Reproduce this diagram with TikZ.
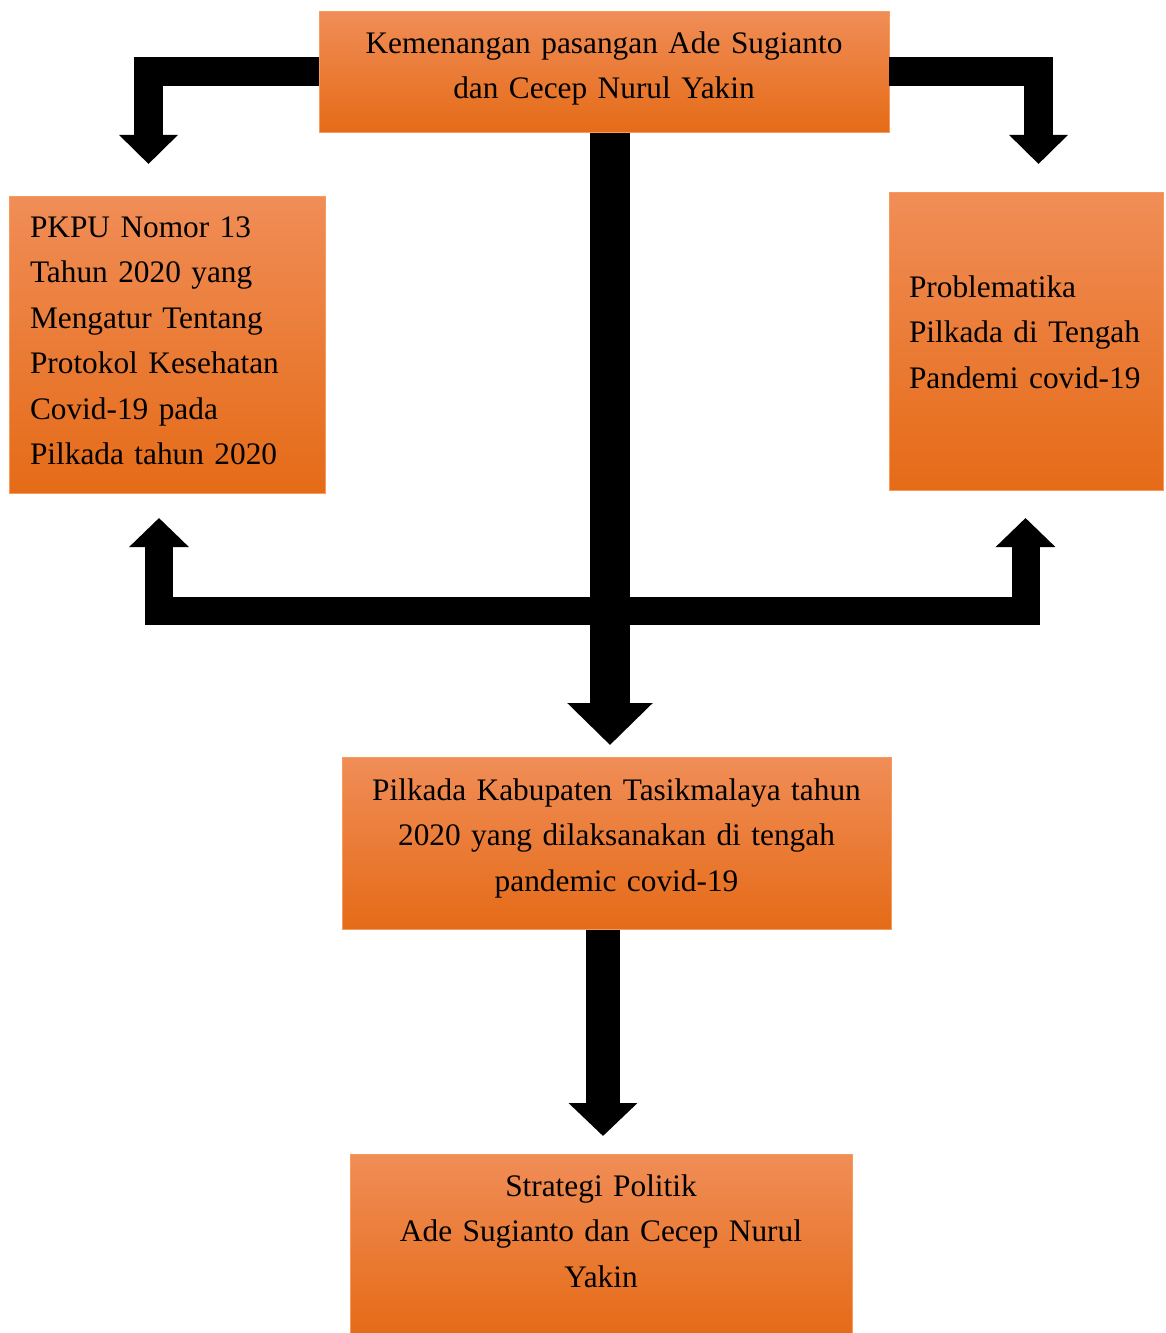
\documentclass[tikz,border=0pt]{standalone}
\usepackage{fontspec}
\setmainfont{Liberation Serif}
\usetikzlibrary{positioning, arrows.meta, calc}
\definecolor{jinggaatas}{HTML}{F08D57}
\definecolor{jingga}{HTML}{F47C2A}
\definecolor{jinggabawah}{HTML}{E56B17}
\definecolor{garis}{HTML}{F79A5C}

\tikzset{
  kotak/.style={shading=axis, top color=jinggaatas, middle color=jingga,
    bottom color=jinggabawah, draw=garis, line width=0.6pt, inner ysep=0pt,
    anchor=north, font={\fontsize{23.5pt}{34.1pt}\selectfont}},
  panah/.style={line width=21.75pt, -{Triangle[width=42.75pt, length=21.75pt]}},
}

\begin{document}
\begin{tikzpicture}[x=0.75pt, y=-0.75pt]
        \useasboundingbox (0,0) rectangle (1165,1333);
        % kotak
        \node[kotak, text width=427.5pt, inner xsep=0pt, align=center,
          text height=31.5pt, text depth=59.25pt] (menang) at (604,11)
          {Kemenangan pasangan Ade Sugianto\\ dan Cecep Nurul Yakin};
        \node[kotak, text width=205.5pt, inner xsep=15.75pt, align=left,
          text height=30.75pt, text depth=192pt] (pkpu) at (167,196)
          {PKPU Nomor 13\\ Tahun 2020 yang\\ Mengatur Tentang\\ Protokol Kesehatan\\ Covid-19 pada\\ Pilkada tahun 2020};
        \node[kotak, text width=175.5pt, inner xsep=15pt, align=left,
          text height=78.75pt, text depth=144.75pt] (problem) at (1026,192)
          {Problematika\\ Pilkada di Tengah\\ Pandemi covid-19};
        \node[kotak, text width=411.75pt, inner xsep=0pt, align=center,
          text height=32.25pt, text depth=96.75pt] (pilkada) at (616.5,757)
          {Pilkada Kabupaten Tasikmalaya tahun\\ 2020 yang dilaksanakan di tengah\\ pandemic covid-19};
        \node[kotak, text width=376.5pt, inner xsep=0pt, align=center,
          text height=31.5pt, text depth=102.75pt] (strategi) at (601,1154)
          {Strategi Politik\\ Ade Sugianto dan Cecep Nurul\\ Yakin};
        % ujung panah
        \coordinate (ujungkiri) at (148.5,164);
        \coordinate (ujungkanan) at (1038.5,164);
        \coordinate (naikkiri) at (159,518);
        \coordinate (naikkanan) at (1025.5,518);
        \coordinate (palang) at (610,610.5);
        \coordinate (turun) at (610,745);
        \coordinate (turunbawah) at (603,1136);
        % panah
        \draw[panah] (menang.west) -| (ujungkiri);
        \draw[panah] (menang.east) -| (ujungkanan);
        \draw[line width=21pt, {Triangle[width=43.5pt, length=21.75pt]}-{Triangle[width=43.5pt, length=21.75pt]}]
          (naikkiri) |- (palang) -| (naikkanan);
        \draw[line width=30pt, -{Triangle[width=62.25pt, length=31.5pt]}] (menang.south -| turun) -- (turun);
        \draw[line width=25.5pt, -{Triangle[width=50.25pt, length=24.75pt]}] (pilkada.south -| turunbawah) -- (turunbawah);
      \end{tikzpicture}
\end{document}
